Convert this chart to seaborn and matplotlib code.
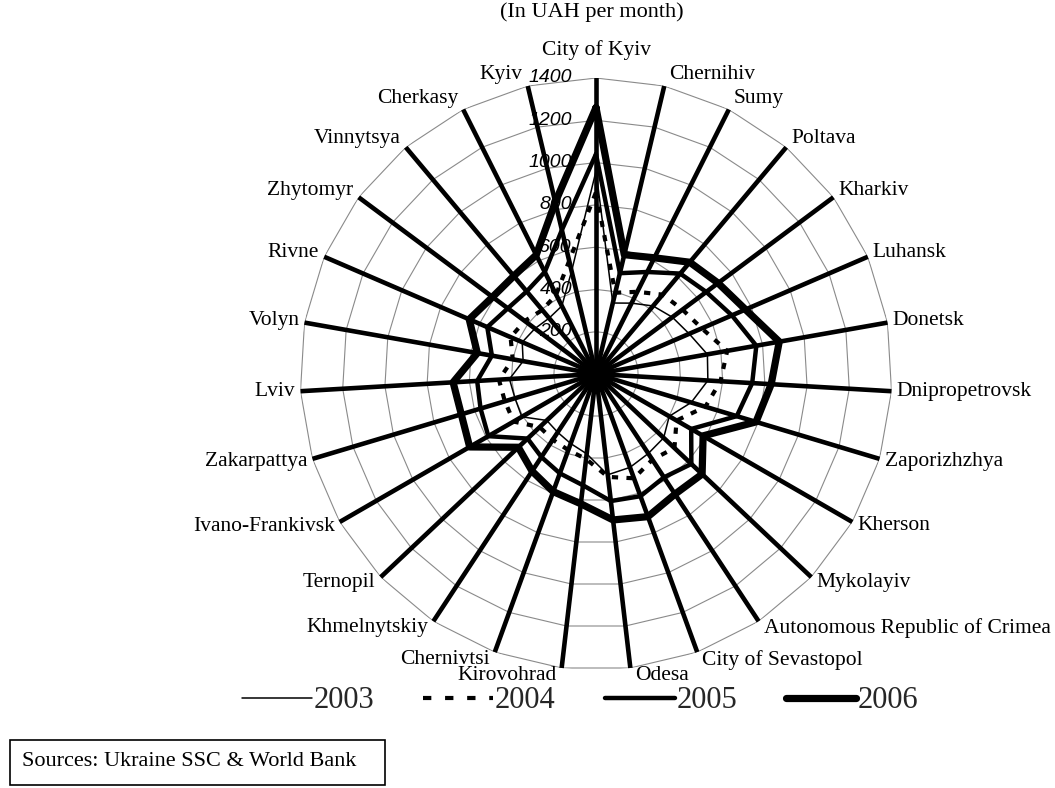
import numpy as np
import pandas as pd
import matplotlib
matplotlib.use("Agg")
import matplotlib.pyplot as plt
import seaborn as sns
from matplotlib.patches import Rectangle
from matplotlib.lines import Line2D

# ---------------- data ----------------
regions = ["City of Kyiv", "Chernihiv", "Sumy", "Poltava", "Kharkiv", "Luhansk",
           "Donetsk", "Dnipropetrovsk", "Zaporizhzhya", "Kherson", "Mykolayiv",
           "Autonomous Republic of Crimea", "City of Sevastopol", "Odesa",
           "Kirovohrad", "Chernivtsi", "Khmelnytskiy", "Ternopil",
           "Ivano-Frankivsk", "Zakarpattya", "Lviv", "Volyn", "Rivne",
           "Zhytomyr", "Vinnytsya", "Cherkasy", "Kyiv"]

v2003 = [960, 345, 375, 420, 450, 480, 535, 530, 470, 400, 440, 450, 470, 480,
         380, 350, 330, 320, 405, 400, 410, 350, 380, 360, 345, 360, 500]
v2004 = [860, 395, 435, 490, 510, 545, 630, 590, 540, 440, 510, 485, 525, 490,
         405, 383, 372, 366, 450, 450, 460, 400, 440, 420, 395, 420, 550]
v2005 = [1040, 490, 540, 620, 650, 700, 770, 740, 695, 520, 620, 585, 615, 605,
         530, 500, 470, 445, 588, 570, 563, 500, 560, 520, 510, 540, 700]
v2006 = [1260, 580, 615, 690, 720, 770, 880, 830, 790, 585, 690, 680, 718, 695,
         618, 592, 550, 505, 690, 665, 677, 570, 653, 610, 605, 630, 835]

years = ["2003", "2004", "2005", "2006"]
series = [v2003, v2004, v2005, v2006]
grid_levels = [200, 400, 600, 800, 1000, 1200, 1400]
r_tick_labels = ["200", "400", "600", "800", "1000", "1200", "1400"]

# ---------------- styling ----------------
sns.set_theme(style="white")
plt.rcParams["font.family"] = ["Liberation Serif", "DejaVu Serif"]

W, H = 1055, 788
fig = plt.figure(figsize=(W / 100, H / 100), dpi=100)
fig.patch.set_facecolor("white")

cx, cy, R = 596, 374, 296
ax = fig.add_axes([(cx - R) / W, 1 - (cy + R) / H, 2 * R / W, 2 * R / H],
                  polar=True)
ax.set_facecolor("white")
ax.set_theta_zero_location("N")
ax.set_theta_direction(-1)

n = len(regions)
theta = np.linspace(0, 2 * np.pi, n, endpoint=False)
theta_closed = np.append(theta, 2 * np.pi)

# long-format frame for seaborn
rows = []
for yr, vals in zip(years, series):
    vv = list(vals) + [vals[0]]
    for t, v in zip(theta_closed, vv):
        rows.append({"theta": t, "value": v, "year": yr})
df = pd.DataFrame(rows)

widths = {"2003": 1.1, "2004": 3.0, "2005": 3.2, "2006": 5.2}
dash_map = {"2003": "", "2004": (1.5, 2.0), "2005": "", "2006": ""}
palette = {y: "black" for y in years}

# polygon gridlines
for lvl in grid_levels:
    ax.plot(theta_closed, [lvl] * len(theta_closed), color="#8a8a8a",
            lw=0.8, zorder=0.3)

sns.lineplot(data=df, x="theta", y="value", hue="year", size="year",
             style="year", sizes=widths, dashes=dash_map, palette=palette,
             sort=False, estimator=None, legend=False, ax=ax, zorder=3)

ax.set_ylim(0, 1400)
ax.set_xticks(theta)
ax.set_xticklabels([])
ax.set_yticks([])
ax.xaxis.grid(True, color="black", linewidth=3.3)
ax.yaxis.grid(False)
ax.set_axisbelow(True)
ax.spines["polar"].set_visible(False)
ax.set_xlabel("")
ax.set_ylabel("")

# category labels
for th, name in zip(theta, regions):
    s, c = np.sin(th), np.cos(th)
    if abs(s) < 1e-6:
        ha, dx = "center", 0
    elif s > 0:
        ha, dx = "left", 5
    else:
        ha, dx = "right", -5
    dy = 12 * c if c > 0 else 8 * c
    if name == "City of Kyiv":
        dy = 28
    ax.annotate(name, (th, 1400), xytext=(dx, dy), textcoords="offset pixels",
                ha=ha, va="center", fontsize=15.5, annotation_clip=False,
                color="black")

# radial tick labels
for lvl, lab in zip(grid_levels, r_tick_labels):
    ax.annotate(lab, (0, lvl), xytext=(-24, 0), textcoords="offset pixels",
                ha="right", va="center", fontsize=14, style="italic",
                family=["Liberation Sans", "DejaVu Sans"], color="black",
                annotation_clip=False, zorder=5)

# title
fig.text(592 / W, 1 - 12 / H, "(In UAH per month)", ha="center", va="center",
         fontsize=16, color="black")

# legend
leg_dash = {"2003": None, "2004": (2.0, 3.3), "2005": None, "2006": None}
handles = [Line2D([], [], color="black", lw=widths[y],
                  linestyle=(0, leg_dash[y]) if leg_dash[y] else "-")
           for y in years]
fig.legend(handles, years, loc="center", bbox_to_anchor=(580 / W, 1 - 701 / H),
           ncol=4, frameon=False, fontsize=22, handlelength=2.3,
           handletextpad=0.05, columnspacing=1.6)

# sources box
fig.add_artist(Rectangle((10 / W, 1 - 785 / H), 375 / W, 45 / H,
                         transform=fig.transFigure, fill=False,
                         edgecolor="black", lw=1.2))
fig.text(22 / W, 1 - 762 / H, "Sources: Ukraine SSC & World Bank",
         ha="left", va="center", fontsize=16, color="black")

fig.savefig("out.png", dpi=100, facecolor="white")
